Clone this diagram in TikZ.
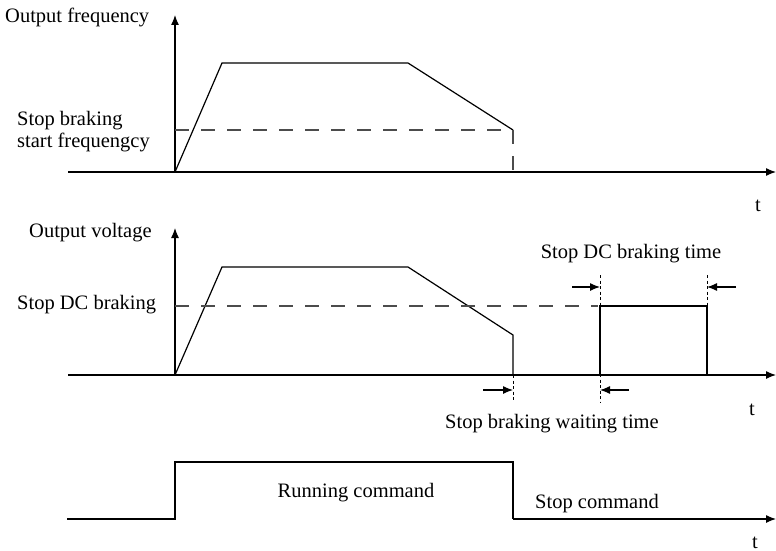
\documentclass[tikz,border=0pt]{standalone}
\usepackage{fontspec}
\setmainfont{Liberation Serif}
\usetikzlibrary{arrows.meta}
\begin{document}
\begin{tikzpicture}[x=1pt,y=-1pt,
  curve/.style={line width=1.2pt,line join=miter},
  axis/.style={line width=1.2pt,-{Latex[length=10pt,width=8pt]}},
  dimarrow/.style={line width=1.2pt,-{Latex[length=10pt,width=8pt]}},
  dashline/.style={line width=1.2pt,draw=black!70,dash pattern=on 14pt off 12pt},
  dotline/.style={line width=0.9pt,dash pattern=on 3pt off 2.5pt},
  lbl/.style={inner sep=0pt,anchor=base west,font=\fontsize{20.5}{22}\selectfont},
  clbl/.style={inner sep=0pt,anchor=base,font=\fontsize{20.5}{22}\selectfont}]
\useasboundingbox (0,0) rectangle (776,551);
% ---------- top panel ----------
\coordinate (o1) at (175,172);
\coordinate (y1) at (175,15);
\coordinate (l1) at (68,172);
\coordinate (r1) at (776,172);
\draw[line width=1.2pt] (l1) -- (o1);
\draw[axis] (o1) -- (r1);
\draw[axis] (o1) -- (y1);
\coordinate (f1) at (222,63);
\coordinate (f2) at (408,63);
\coordinate (f3) at (513,130);
\coordinate (f4) at (513,172);
\coordinate (fd) at (175,130);
\draw[curve] (o1) -- (f1) -- (f2) -- (f3);
\draw[dashline] (fd) -- (f3) -- (f4);
\node[lbl] (tOF) at (5,23) {Output frequency};
\node[lbl] (tSB) at (17,125) {Stop braking};
\node[lbl] (tSF) at (17,147) {start frequengcy};
\node[clbl] (t1) at (758,211) {t};
% ---------- middle panel ----------
\coordinate (o2) at (175,375);
\coordinate (y2) at (175,228);
\coordinate (l2) at (68,375);
\coordinate (r2) at (776,375);
\draw[line width=1.2pt] (l2) -- (o2);
\draw[axis] (o2) -- (r2);
\draw[axis] (o2) -- (y2);
\coordinate (v1) at (222,267);
\coordinate (v2) at (408,267);
\coordinate (v3) at (513,335);
\coordinate (v4) at (513,375);
\coordinate (vd) at (175,306);
\coordinate (vd2) at (598,306);
\draw[curve] (o2) -- (v1) -- (v2) -- (v3) -- (v4);
\draw[dashline] (vd) -- (vd2);
\coordinate (b1) at (600,375);
\coordinate (b2) at (600,306);
\coordinate (b3) at (707,306);
\coordinate (b4) at (707,375);
\draw[curve] (b1) -- (b2) -- (b3) -- (b4);
% dotted guides
\draw[dotline] (600,275) -- (600,403);
\draw[dotline] (707,275) -- (707,306);
\draw[dotline] (513,375) -- (513,400);
% dimension arrows
\coordinate (a1s) at (572,287); \coordinate (a1e) at (600,287);
\coordinate (a2s) at (736,287); \coordinate (a2e) at (707,287);
\coordinate (a3s) at (483,390); \coordinate (a3e) at (513,390);
\coordinate (a4s) at (629,390); \coordinate (a4e) at (600,390);
\draw[dimarrow] (a1s) -- (a1e);
\draw[dimarrow] (a2s) -- (a2e);
\draw[dimarrow] (a3s) -- (a3e);
\draw[dimarrow] (a4s) -- (a4e);
\node[lbl] (tOV) at (29,237) {Output voltage};
\node[lbl] (tDC) at (17,309) {Stop DC braking};
\node[clbl] (tDT) at (631,258) {Stop DC braking time};
\node[clbl] (tWT) at (552,428) {Stop braking waiting time};
\node[clbl] (t2) at (752,415) {t};
% ---------- bottom panel ----------
\coordinate (c0) at (67,519);
\coordinate (c1) at (175,519);
\coordinate (c2) at (175,462);
\coordinate (c3) at (513,462);
\coordinate (c4) at (513,519);
\coordinate (c5) at (776,519);
\draw[curve] (c0) -- (c1) -- (c2) -- (c3) -- (c4);
\draw[axis] (c4) -- (c5);
\node[clbl] (tRC) at (356,497) {Running command};
\node[clbl] (tSC) at (597,508) {Stop command};
\node[clbl] (t3) at (755,548) {t};
\end{tikzpicture}
\end{document}
